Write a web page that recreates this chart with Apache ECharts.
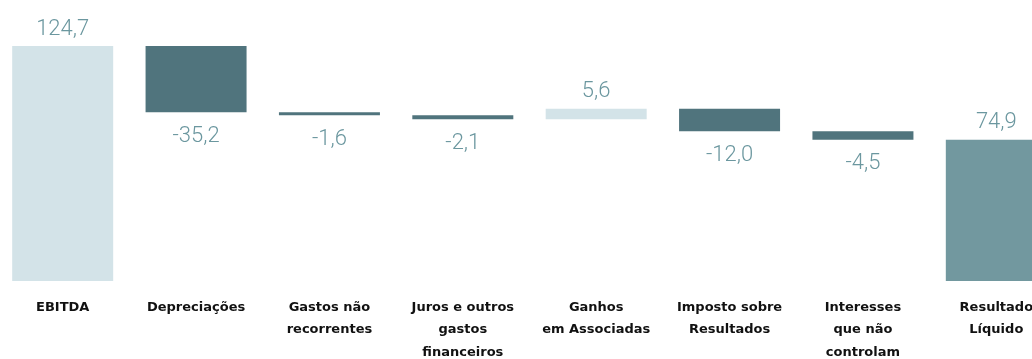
<!DOCTYPE html>
<html>
<head>
<meta charset="utf-8">
<script src="https://cdn.jsdelivr.net/npm/echarts@6/dist/echarts.min.js"></script>
<style>
  html, body { margin: 0; padding: 0; background: #ffffff; }
  #chart { width: 1032px; height: 359px; }
</style>
</head>
<body>
<div id="chart"></div>
<script>
// Categories of the results bridge (EBITDA to net income), million €
const categories = [
  'EBITDA',
  'Depreciações',
  'Gastos não\nrecorrentes',
  'Juros e outros\ngastos\nfinanceiros',
  'Ganhos\nem Associadas',
  'Imposto sobre\nResultados',
  'Interesses\nque não\ncontrolam',
  'Resultado\nLíquido'
];
// Signed value of each step; first and last are totals
const values = [124.7, -35.2, -1.6, -2.1, 5.6, -12.0, -4.5, 74.9];
const isTotal = [true, false, false, false, false, false, false, true];

const COLOR_TOTAL_START = '#d3e3e8';
const COLOR_UP = '#d3e3e8';
const COLOR_DOWN = '#50747d';
const COLOR_TOTAL_END = '#72989f';
const LABEL_COLOR = '#6b979f';

// Invisible base + visible step for each column
const baseData = [];
const stepData = [];
let running = 0;
values.forEach((v, i) => {
  let color, base;
  if (isTotal[i]) {
    base = 0;
    running = v;
    color = i === 0 ? COLOR_TOTAL_START : COLOR_TOTAL_END;
  } else if (v >= 0) {
    base = running;
    running += v;
    color = COLOR_UP;
  } else {
    running += v;
    base = running;
    color = COLOR_DOWN;
  }
  baseData.push(+base.toFixed(2));
  const down = v < 0;
  stepData.push({
    value: Math.abs(v),
    itemStyle: { color: color },
    label: {
      show: true,
      position: down ? 'bottom' : 'top',
      distance: down ? 13 : 6,
      formatter: () => v.toFixed(1).replace('.', ','),
      color: LABEL_COLOR,
      fontSize: 22,
      fontWeight: 300,
      fontFamily: 'Roboto, "Open Sans", sans-serif'
    }
  });
});

const chart = echarts.init(document.getElementById('chart'), null, { renderer: 'canvas' });
chart.setOption({
  animation: false,
  grid: {
    left: -4,
    width: 1067,
    top: 46,
    bottom: 78,
    containLabel: false,
    outerBoundsMode: 'none'
  },
  xAxis: {
    type: 'category',
    data: categories,
    axisLine: { show: false },
    axisTick: { show: false },
    axisLabel: {
      interval: 0,
      margin: 15,
      color: '#111111',
      fontFamily: '"DejaVu Sans", sans-serif',
      fontWeight: 'bold',
      fontSize: 13,
      lineHeight: 22.5,
      align: 'center'
    }
  },
  yAxis: {
    type: 'value',
    min: 0,
    max: 124.7,
    show: false,
    splitLine: { show: false }
  },
  series: [
    {
      type: 'bar',
      stack: 'bridge',
      data: baseData,
      itemStyle: { color: 'rgba(0,0,0,0)' },
      barWidth: 101,
      silent: true
    },
    {
      type: 'bar',
      stack: 'bridge',
      data: stepData,
      barWidth: 101
    }
  ]
});
</script>
</body>
</html>
